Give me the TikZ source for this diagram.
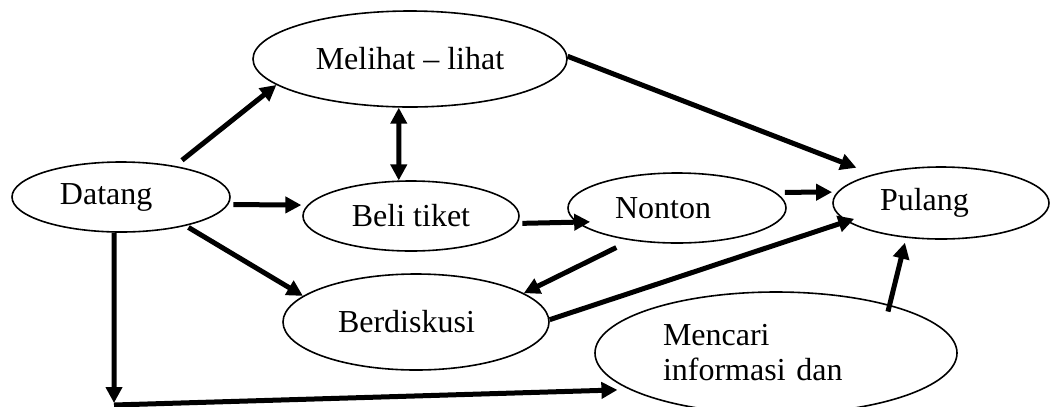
\documentclass[tikz,border=0pt]{standalone}
\usepackage{fontspec}
\setmainfont{Liberation Serif}
\usepackage{tikz}
\usetikzlibrary{shapes.geometric}
\usetikzlibrary{arrows.meta}
\tikzset{every edge/.style={draw, line width=5bp, >={Triangle[length=16bp,width=16bp]}}}
\tikzset{act/.style={draw, ellipse, line width=1.6bp, inner sep=0pt, align=left, font=\fontsize{32bp}{35bp}\selectfont}}

\begin{document}
\begin{tikzpicture}[x=1bp, y=-1bp]
    \useasboundingbox (0,0) rectangle (1053,406);
    \node[act, minimum width=218bp, minimum height=70bp, text width=122bp] at (121,197) (D) {Datang};
    \node[act, minimum width=314bp, minimum height=96bp] at (410,59) (M) {Melihat -- lihat};
    \node[act, minimum width=216bp, minimum height=70bp] at (411,216) (T) {Beli tiket};
    \node[act, minimum width=218bp, minimum height=70bp, text width=124bp] at (677,208) (N) {Nonton};
    \node[act, minimum width=216bp, minimum height=72bp, text width=122bp] at (941,203) (P) {Pulang};
    \node[act, minimum width=266bp, minimum height=96bp, text width=156bp] at (416,322) (B) {Berdiskusi};
    \node[act, minimum width=362bp, minimum height=122bp, text width=226bp] at (776,353) (I) {Mencari\\informasi dan};
    \coordinate (Dc) at (114,405);

    \draw (D.30) edge[->, shorten <=9bp] (M.191);
    \draw (M.257) edge[<->] (T.109);
    \draw (D.-4) edge[->, shorten <=5bp, shorten >=6bp] (T.174);
    \draw (D.-24) edge[->, shorten <=3bp] (B.167);
    \draw (D.259) edge[->, shorten >=2bp] (Dc);
    \draw (Dc) edge[->, shorten >=12bp] (I.194);
    \draw (T.-4) edge[->, shorten <=5bp, shorten >=-14bp] (N.188);
    \draw (N.9) edge[->, shorten <=9bp, shorten >=5bp] (P.174);
    \draw (M.1) edge[->, shorten >=18bp] (P.157);
    \draw (N.215) edge[->, shorten <=16bp] (B.15);
    \draw (B.1) edge[->, shorten >=-8bp] (P.191);
    \draw (I.23) edge[->, shorten <=-7bp, shorten >=5bp] (P.225);
\end{tikzpicture}
\end{document}
